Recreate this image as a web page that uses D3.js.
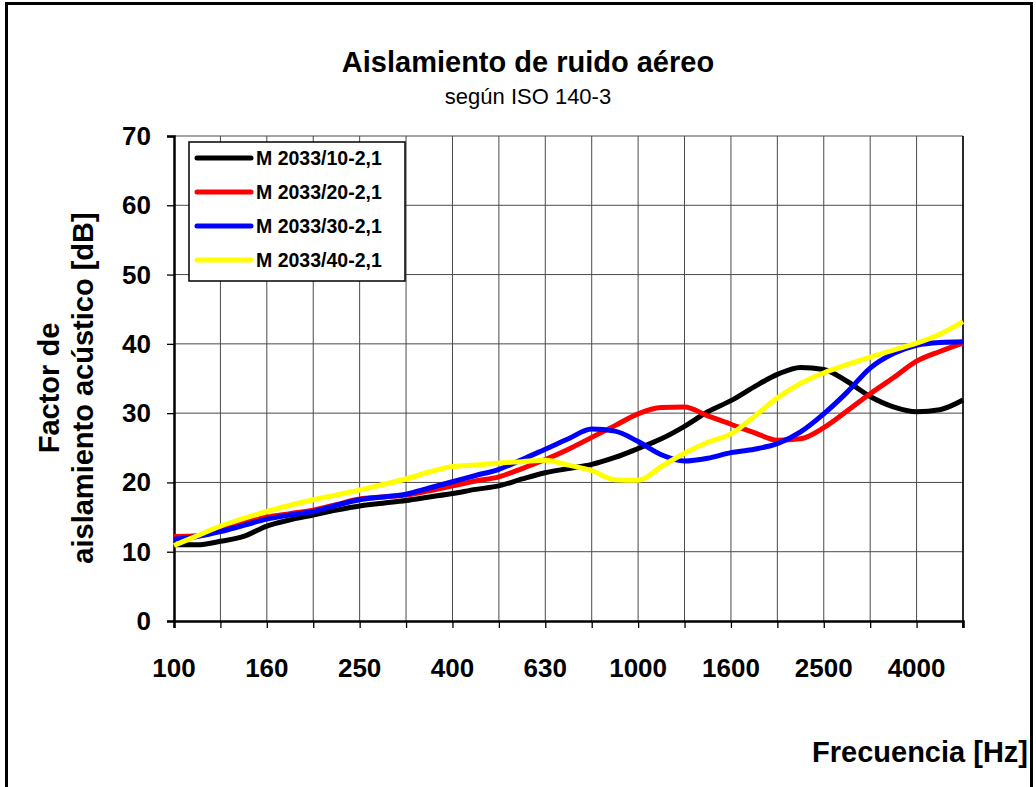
<!DOCTYPE html>
<html>
<head>
<meta charset="utf-8">
<script src="https://cdn.jsdelivr.net/npm/d3@7"></script>
<style>
  body { margin: 0; background: #fff; }
  text { font-family: "Liberation Sans", Arial, sans-serif; }
</style>
</head>
<body>
<div id="app"></div>
<script>
// third-octave bands on the axis
let bands = ['100', '125', '160', '200', '250', '315', '400', '500', '630', '800',
             '1000', '1250', '1600', '2000', '2500', '3150', '4000', '5000'];
let tickLabels = ['100', '160', '250', '400', '630', '1000', '1600', '2500', '4000'];

// readings every half band (position in band steps)
let steps = d3.range(0, 17.5, 0.5);

let m10 = [11.0, 11.0, 11.5, 12.2, 13.7, 14.6, 15.3, 16.0, 16.6, 17.0, 17.4, 17.9, 18.4, 19.0, 19.5, 20.5, 21.4, 22.0,
           22.6, 23.6, 24.9, 26.3, 28.1, 30.2, 31.8, 33.8, 35.6, 36.6, 36.3, 34.6, 32.4, 30.9, 30.2, 30.5, 31.9];
let m20 = [12.2, 12.3, 13.2, 14.2, 15.0, 15.5, 16.0, 16.8, 17.6, 17.9, 18.2, 18.8, 19.5, 20.2, 20.8, 22.0, 23.3, 24.8,
           26.5, 28.2, 29.9, 30.8, 30.9, 29.6, 28.4, 27.2, 26.1, 26.3, 27.9, 30.3, 32.8, 35.1, 37.5, 38.9, 40.1];
let m30 = [11.8, 12.2, 12.9, 13.8, 14.7, 15.3, 15.8, 16.7, 17.5, 17.9, 18.3, 19.2, 20.1, 21.0, 21.9, 23.3, 24.8, 26.3,
           27.7, 27.4, 25.9, 24.0, 23.1, 23.5, 24.3, 24.8, 25.6, 27.3, 29.9, 33.0, 36.5, 38.6, 39.8, 40.2, 40.3];
let m40 = [10.9, 12.3, 13.7, 14.8, 15.8, 16.7, 17.5, 18.2, 18.9, 19.7, 20.5, 21.5, 22.3, 22.5, 22.8, 23.0, 23.2, 22.5,
           21.7, 20.4, 20.3, 22.3, 24.2, 25.8, 27.0, 29.5, 32.2, 34.3, 35.8, 37.0, 38.1, 39.1, 40.1, 41.4, 43.2];

let seriesNames = ['M 2033/10-2,1', 'M 2033/20-2,1', 'M 2033/30-2,1', 'M 2033/40-2,1'];
let seriesColors = ['#000000', '#ff0000', '#0000ff', '#ffff00'];
let seriesValues = [m10, m20, m30, m40];

let width = 1036;
let height = 787;
let plot = { left: 174, right: 963, top: 136, bottom: 621 };

let svg = d3.select('#app').append('svg')
    .attr('width', width)
    .attr('height', height)

// outer frame
svg.append('rect')
    .attr('x', 6.5).attr('y', 3.5)
    .attr('width', 1025).attr('height', 800)
    .attr('fill', 'none')
    .attr('stroke', '#000')
    .attr('stroke-width', 3)

let xScale = d3.scaleLinear()
               .domain([0, bands.length - 1])
               .range([plot.left, plot.right])

let yScale = d3.scaleLinear()
               .domain([0, 70])
               .range([plot.bottom, plot.top])

// grid
let g = svg.append('g')
g.selectAll('.vgrid')
  .data(d3.range(1, bands.length))
  .enter().append('line')
    .attr('x1', d => xScale(d)).attr('x2', d => xScale(d))
    .attr('y1', plot.top).attr('y2', plot.bottom)
    .attr('stroke', '#4a4a4a')
    .attr('stroke-width', 1)
g.selectAll('.hgrid')
  .data(d3.range(10, 71, 10))
  .enter().append('line')
    .attr('x1', plot.left).attr('x2', plot.right)
    .attr('y1', d => yScale(d)).attr('y2', d => yScale(d))
    .attr('stroke', '#4a4a4a')
    .attr('stroke-width', 1)

// axes
let xAxis = d3.axisBottom(xScale)
              .tickValues(d3.range(0, bands.length))
              .tickSize(7)
              .tickFormat('')
svg.append('g')
   .attr('transform', 'translate(0,' + plot.bottom + ')')
   .call(xAxis)
   .call(s => s.select('.domain').attr('stroke-width', 2.5))
   .call(s => s.selectAll('.tick line').attr('stroke-width', 1.3))

let yAxis = d3.axisLeft(yScale)
              .tickValues(d3.range(0, 71, 10))
              .tickSize(7)
              .tickFormat('')
svg.append('g')
   .attr('transform', 'translate(' + plot.left + ',0)')
   .call(yAxis)
   .call(s => s.select('.domain').attr('stroke-width', 2.5))
   .call(s => s.selectAll('.tick line').attr('stroke-width', 1.3))

// right border of plot
svg.append('line')
   .attr('x1', plot.right).attr('x2', plot.right)
   .attr('y1', plot.top).attr('y2', plot.bottom + 7)
   .attr('stroke', '#000').attr('stroke-width', 1.5)

// tick labels
svg.selectAll('.xlab')
  .data(tickLabels)
  .enter().append('text')
    .attr('x', d => xScale(bands.indexOf(d)))
    .attr('y', 677)
    .attr('text-anchor', 'middle')
    .style('font-size', '26px')
    .style('font-weight', 'bold')
    .text(d => d)

svg.selectAll('.ylab')
  .data(d3.range(0, 71, 10))
  .enter().append('text')
    .attr('x', 151)
    .attr('y', d => yScale(d) + 9)
    .attr('text-anchor', 'end')
    .style('font-size', '26px')
    .style('font-weight', 'bold')
    .text(d => d)

// lines
let line = d3.line()
             .x((d, i) => xScale(steps[i]))
             .y(d => yScale(d))
             .curve(d3.curveMonotoneX)

svg.selectAll('.series')
  .data(seriesValues)
  .enter().append('path')
    .attr('d', d => line(d))
    .attr('fill', 'none')
    .attr('stroke', (d, i) => seriesColors[i])
    .attr('stroke-width', 5)
    .attr('stroke-linejoin', 'round')

// legend
let legend = svg.append('g')
legend.append('rect')
  .attr('x', 189).attr('y', 142)
  .attr('width', 216).attr('height', 139)
  .attr('fill', '#fff')
  .attr('stroke', '#000')
  .attr('stroke-width', 1.5)

let rows = legend.selectAll('.row')
  .data(seriesNames)
  .enter().append('g')
    .attr('transform', (d, i) => 'translate(0,' + (158 + i * 34) + ')')
rows.append('line')
  .attr('x1', 197).attr('x2', 251)
  .attr('stroke', (d, i) => seriesColors[i])
  .attr('stroke-width', 5)
  .attr('stroke-linecap', 'round')
rows.append('text')
  .attr('x', 256).attr('y', 7)
  .style('font-size', '19.5px')
  .style('font-weight', 'bold')
  .text(d => d)

// titles
svg.append('text')
   .attr('x', 528).attr('y', 72)
   .attr('text-anchor', 'middle')
   .style('font-size', '29px')
   .style('font-weight', 'bold')
   .text('Aislamiento de ruido aéreo')
svg.append('text')
   .attr('x', 528).attr('y', 104)
   .attr('text-anchor', 'middle')
   .style('font-size', '22px')
   .text('según ISO 140-3')

let yTitle = svg.append('text')
   .attr('transform', 'translate(0,388) rotate(-90)')
   .attr('text-anchor', 'middle')
   .style('font-size', '29px')
   .style('font-weight', 'bold')
yTitle.append('tspan').attr('x', 0).attr('y', 59).text('Factor de')
yTitle.append('tspan').attr('x', 0).attr('y', 93).text('aislamiento acústico [dB]')

svg.append('text')
   .attr('x', 1028).attr('y', 762)
   .attr('text-anchor', 'end')
   .style('font-size', '29px')
   .style('font-weight', 'bold')
   .text('Frecuencia [Hz]')
</script>
</body>
</html>
